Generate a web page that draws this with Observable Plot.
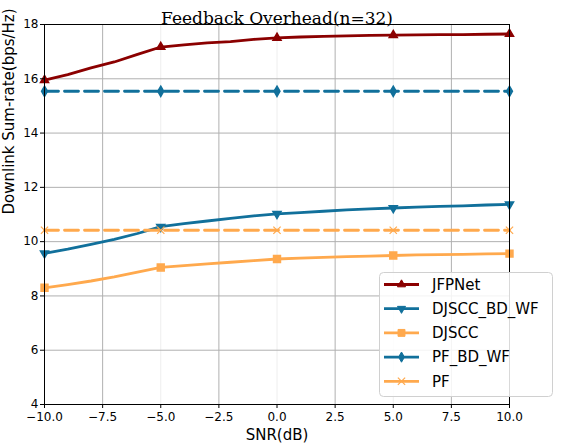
<!DOCTYPE html>
<html>
<head>
<meta charset="utf-8">
<script src="https://cdn.jsdelivr.net/npm/d3@7"></script>
<script src="https://cdn.jsdelivr.net/npm/@observablehq/plot@0.6"></script>
<style>
  body { margin: 0; background: #fff; }
</style>
</head>
<body>
<div id="chart"></div>
<script>
// valores
const snr = [-10, -9, -8, -7, -6, -5, -4, -3, -2, -1, 0, 1, 2, 3, 4, 5, 6, 7, 8, 9, 10]
const markSnr = [-10, -5, 0, 5, 10]
const jfpnet = [15.95, 16.15, 16.4, 16.62, 16.9, 17.17, 17.25, 17.32, 17.37, 17.45, 17.51, 17.54, 17.56, 17.58, 17.6, 17.61, 17.62, 17.63, 17.63, 17.64, 17.65]
const djsccBdWf = [9.57, 9.72, 9.9, 10.08, 10.3, 10.55, 10.66, 10.76, 10.86, 10.95, 11.02, 11.07, 11.12, 11.17, 11.21, 11.24, 11.27, 11.3, 11.32, 11.35, 11.37]
const djscc = [8.3, 8.42, 8.55, 8.7, 8.88, 9.05, 9.12, 9.18, 9.24, 9.3, 9.36, 9.39, 9.42, 9.45, 9.47, 9.49, 9.51, 9.52, 9.53, 9.55, 9.56]
const pfBdWf = [15.54, 15.54, 15.54, 15.54, 15.54, 15.54, 15.54, 15.54, 15.54, 15.54, 15.54, 15.54, 15.54, 15.54, 15.54, 15.54, 15.54, 15.54, 15.54, 15.54, 15.54]
const pf = [10.42, 10.42, 10.42, 10.42, 10.42, 10.42, 10.42, 10.42, 10.42, 10.42, 10.42, 10.42, 10.42, 10.42, 10.42, 10.42, 10.42, 10.42, 10.42, 10.42, 10.42]
const xTicks = [-10, -7.5, -5, -2.5, 0, 2.5, 5, 7.5, 10]
const yTicks = [4, 6, 8, 10, 12, 14, 16, 18]

const series = [
  {name: 'JFPNet', values: jfpnet, color: '#8b0000', symbol: 'triangle', rotate: 0, dash: null, r: 3},
  {name: 'DJSCC_BD_WF', values: djsccBdWf, color: '#11709b', symbol: 'triangle', rotate: 180, dash: null, r: 3},
  {name: 'DJSCC', values: djscc, color: '#ffa94d', symbol: 'square', rotate: 0, dash: null, r: 3.9},
  {name: 'PF_BD_WF', values: pfBdWf, color: '#11709b', symbol: 'diamond', rotate: 0, dash: '14,6', r: 3.1},
  {name: 'PF', values: pf, color: '#ffa94d', symbol: 'times', rotate: 0, dash: '14,6', r: 3.4}
]

const fmt = d => (d < 0 ? '\u2212' : '') + Math.abs(d).toFixed(1)

const marks = [
  Plot.ruleX([-7.5, -2.5, 2.5, 7.5], {stroke: '#b0b0b0', strokeWidth: 1}),
  Plot.ruleX([-5, 0, 5], {stroke: '#eeeeee', strokeWidth: 1}),
  Plot.ruleY([6, 8, 10, 12, 14, 16], {stroke: '#b0b0b0', strokeWidth: 1})
]

series.forEach(s => {
  const rows = snr.map((x, i) => ({x, y: s.values[i]}))
  marks.push(Plot.line(rows, {x: 'x', y: 'y', stroke: s.color, strokeWidth: 2.8, strokeDasharray: s.dash}))
  const pts = rows.filter(d => markSnr.includes(d.x))
  if (s.symbol === 'times') {
    marks.push(Plot.dot(pts, {x: 'x', y: 'y', symbol: 'times', r: s.r, stroke: s.color, strokeWidth: 1.2}))
  } else {
    marks.push(Plot.dot(pts, {x: 'x', y: 'y', symbol: s.symbol, rotate: s.rotate, r: s.r, fill: s.color, stroke: s.color}))
  }
})

marks.push(
  Plot.frame({stroke: 'black', strokeWidth: 1}),
  Plot.axisX(xTicks, {tickSize: 4, tickPadding: 4, tickFormat: fmt, label: null, fontSize: 12}),
  Plot.axisY(yTicks, {tickSize: 4, tickPadding: 2, tickFormat: d => d, label: null, fontSize: 12}),
  Plot.text(['Feedback Overhead(n=32)'], {frameAnchor: 'top', dy: -13, fontSize: 17, fontFamily: 'DejaVu Serif', fill: 'black'}),
  Plot.text(['SNR(dB)'], {frameAnchor: 'bottom', dy: 35, fontSize: 15, fill: 'black'}),
  Plot.text(['Downlink Sum-rate(bps/Hz)'], {frameAnchor: 'left', dx: -35, rotate: -90, fontSize: 15, fill: 'black'})
)

const chart = Plot.plot({
  width: 574,
  height: 448,
  marginLeft: 44,
  marginRight: 65,
  marginTop: 24,
  marginBottom: 44,
  style: {fontFamily: 'DejaVu Sans', color: 'black', background: 'white'},
  x: {domain: [-10, 10]},
  y: {domain: [4, 18]},
  marks
})

// leyenda dibujada a mano dentro del svg
const svg = d3.select(chart)
const leg = svg.append('g').attr('font-family', 'DejaVu Sans').attr('font-size', 15).attr('text-anchor', 'start')
leg.append('rect')
  .attr('x', 379.5).attr('y', 272.5).attr('width', 173).attr('height', 124)
  .attr('rx', 4).attr('fill', 'white').attr('fill-opacity', 0.85)
  .attr('stroke', '#d0d0d0')
const sym = {triangle: d3.symbolTriangle, square: d3.symbolSquare, diamond: d3.symbolDiamond, times: d3.symbolTimes}
series.forEach((s, i) => {
  const y = 284.5 + i * 24.2
  leg.append('line').attr('x1', 384).attr('x2', 419).attr('y1', y).attr('y2', y)
    .attr('stroke', s.color).attr('stroke-width', 2.8)
  const p = leg.append('path')
    .attr('d', d3.symbol(sym[s.symbol], Math.PI * s.r * s.r)())
    .attr('transform', `translate(401.5,${y}) rotate(${s.rotate})`)
  if (s.symbol === 'times') p.attr('fill', 'none').attr('stroke', s.color).attr('stroke-width', 1.2)
  else p.attr('fill', s.color).attr('stroke', s.color)
  leg.append('text').attr('x', 432).attr('y', y).attr('dy', '0.35em').attr('fill', 'black').text(s.name)
})

d3.select('#chart').append(() => chart)
</script>
</body>
</html>
